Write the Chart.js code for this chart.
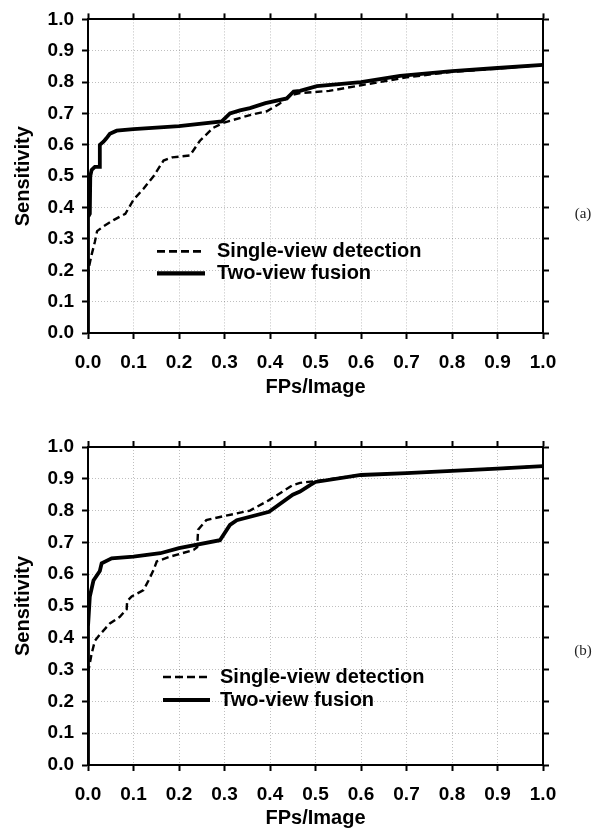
<!DOCTYPE html>
<html>
<head>
<meta charset="utf-8">
<script src="https://cdn.jsdelivr.net/npm/chart.js@4.4.1/dist/chart.umd.min.js"></script>
<style>
  html, body { margin: 0; padding: 0; background: #fff; }
  .panel { position: relative; width: 600px; }
  .tag { position: absolute; font: 15px 'Liberation Serif', 'DejaVu Serif', serif; color: #222; transform: translate(-50%, -50%); }
</style>
</head>
<body>
<div class="panel" style="height:418px"><canvas id="chart-a"></canvas><div class="tag" style="left:583px;top:213px">(a)</div></div>
<div class="panel" style="height:417px"><canvas id="chart-b"></canvas><div class="tag" style="left:583px;top:232px">(b)</div></div>
<script>
// Theme
Chart.defaults.color = '#000000';
Chart.defaults.font.family = "'Liberation Sans', Arial, sans-serif";

// Series labels and tick values
const seriesLabels = ['Single-view detection', 'Two-view fusion'];
const axisTicks = [0, 0.1, 0.2, 0.3, 0.4, 0.5, 0.6, 0.7, 0.8, 0.9, 1.0];

// (a) single-view detection
const singleA_x = [0, 0.002, 0.008, 0.015, 0.02, 0.034, 0.056, 0.082, 0.1, 0.122, 0.144, 0.166, 0.185, 0.224, 0.246, 0.275, 0.297, 0.356, 0.393, 0.42, 0.444, 0.466, 0.53, 0.6, 0.7, 0.8, 0.9, 1.0];
const singleA_y = [0.18, 0.21, 0.25, 0.29, 0.325, 0.34, 0.36, 0.38, 0.425, 0.46, 0.50, 0.55, 0.56, 0.566, 0.613, 0.654, 0.67, 0.695, 0.707, 0.73, 0.758, 0.765, 0.772, 0.79, 0.815, 0.833, 0.843, 0.855];

// (a) two-view fusion
const fusionA_x = [0, 0, 0.004, 0.005, 0.008, 0.015, 0.026, 0.026, 0.034, 0.04, 0.048, 0.063, 0.1, 0.2, 0.294, 0.312, 0.334, 0.356, 0.39, 0.437, 0.452, 0.466, 0.503, 0.6, 0.686, 0.8, 0.9, 1.0];
const fusionA_y = [0, 0.37, 0.38, 0.50, 0.52, 0.53, 0.53, 0.60, 0.61, 0.62, 0.635, 0.645, 0.65, 0.66, 0.675, 0.70, 0.71, 0.717, 0.733, 0.748, 0.77, 0.772, 0.787, 0.80, 0.82, 0.835, 0.845, 0.855];

// (b) single-view detection
const singleB_x = [0, 0.004, 0.008, 0.015, 0.026, 0.048, 0.07, 0.085, 0.086, 0.096, 0.122, 0.133, 0.144, 0.151, 0.18, 0.232, 0.24, 0.242, 0.26, 0.29, 0.356, 0.398, 0.45, 0.466, 0.5, 0.6, 0.7, 0.8, 0.9, 1.0];
const singleB_y = [0.29, 0.32, 0.35, 0.39, 0.41, 0.445, 0.466, 0.49, 0.515, 0.53, 0.55, 0.58, 0.613, 0.64, 0.655, 0.676, 0.685, 0.74, 0.77, 0.78, 0.80, 0.833, 0.88, 0.887, 0.893, 0.912, 0.918, 0.925, 0.932, 0.94];

// (b) two-view fusion
const fusionB_x = [0, 0, 0.004, 0.012, 0.026, 0.03, 0.052, 0.1, 0.159, 0.2, 0.29, 0.312, 0.327, 0.398, 0.45, 0.466, 0.488, 0.5, 0.6, 0.7, 0.8, 0.9, 1.0];
const fusionB_y = [0, 0.435, 0.53, 0.58, 0.61, 0.634, 0.65, 0.655, 0.666, 0.682, 0.707, 0.755, 0.77, 0.796, 0.85, 0.86, 0.88, 0.89, 0.912, 0.918, 0.925, 0.932, 0.94];

const zip = (xs, ys) => xs.map((x, i) => ({ x: x, y: ys[i] }));

// Draws the line-style legend inside the plot area
const lineLegend = {
    id: 'lineLegend',
    afterDatasetsDraw(chart, args, opts) {
        const ctx = chart.ctx;
        const area = chart.chartArea;
        ctx.save();
        chart.data.datasets.forEach((ds, i) => {
            const x = area.left + opts.left;
            const y = area.top + opts.top + i * opts.spacing;
            ctx.beginPath();
            ctx.setLineDash(ds.legendDash || []);
            ctx.lineWidth = ds.legendWidth;
            ctx.strokeStyle = ds.borderColor;
            ctx.moveTo(x, y);
            ctx.lineTo(x + opts.length, y);
            ctx.stroke();
            ctx.setLineDash([]);
            ctx.fillStyle = '#000';
            ctx.font = "bold 20px 'Liberation Sans', Arial, sans-serif";
            ctx.textBaseline = 'middle';
            ctx.fillText(ds.label, x + opts.length + opts.gap, y);
        });
        ctx.restore();
    }
};

const tickFont = { size: 19, weight: 'bold' };
const titleFont = { size: 20, weight: 'bold' };
const fmt = v => Number(v).toFixed(1);
const fixedTicks = s => { s.ticks = axisTicks.map(v => ({ value: v })); };

function makeChart(id, single, fusion, box, legend) {
    const frame = { display: true, color: '#000', width: 2 };
    const dottedFrame = { display: true, color: '#000', width: 2, dash: [1, 2] };
    const mainGrid = { color: 'rgba(0,0,0,0.25)', tickLength: 6, tickWidth: 2, tickColor: '#000' };
    const sideGrid = { drawOnChartArea: false, tickLength: 6, tickWidth: 2, tickColor: '#000' };
    return new Chart(document.getElementById(id), {
        type: 'scatter',
        data: {
            datasets: [{
                label: seriesLabels[0],
                data: single,
                showLine: true,
                borderColor: '#000',
                borderWidth: 2.4,
                borderDash: [7, 4],
                legendDash: [8, 4],
                legendWidth: 2.6,
                pointRadius: 0,
                tension: 0
            }, {
                label: seriesLabels[1],
                data: fusion,
                showLine: true,
                borderColor: '#000',
                borderWidth: 3.8,
                legendWidth: 4.2,
                pointRadius: 0,
                tension: 0
            }]
        },
        options: {
            responsive: true,
            maintainAspectRatio: false,
            animation: false,
            layout: { padding: 0 },
            plugins: {
                legend: { display: false },
                tooltip: { enabled: false },
                lineLegend: legend
            },
            scales: {
                x: {
                    type: 'linear', position: 'bottom', min: 0, max: 1,
                    afterBuildTicks: fixedTicks,
                    afterFit: s => { s.height = box.bottom; },
                    ticks: { font: tickFont, padding: 12, maxRotation: 0, callback: fmt },
                    grid: mainGrid,
                    border: dottedFrame,
                    title: { display: true, text: 'FPs/Image', font: titleFont, padding: { top: 0, bottom: box.titlePad } }
                },
                xTop: {
                    type: 'linear', position: 'top', min: 0, max: 1,
                    afterBuildTicks: fixedTicks,
                    afterFit: s => { s.height = box.top; },
                    ticks: { display: false },
                    grid: sideGrid,
                    border: frame
                },
                y: {
                    type: 'linear', position: 'left', min: 0, max: 1,
                    afterBuildTicks: fixedTicks,
                    afterFit: s => { s.width = 88; },
                    ticks: { font: tickFont, padding: 8, callback: fmt },
                    grid: mainGrid,
                    border: dottedFrame,
                    title: { display: true, text: 'Sensitivity', font: titleFont, padding: { top: 11, bottom: 0 } }
                },
                yRight: {
                    type: 'linear', position: 'right', min: 0, max: 1,
                    afterBuildTicks: fixedTicks,
                    afterFit: s => { s.width = 57; },
                    ticks: { display: false },
                    grid: sideGrid,
                    border: frame
                }
            }
        },
        plugins: [lineLegend]
    });
}

const chartA = makeChart('chart-a', zip(singleA_x, singleA_y), zip(fusionA_x, fusionA_y),
    { top: 15, bottom: 85, titlePad: 19 },
    { left: 69, top: 232, spacing: 22, length: 48, gap: 12 });

const chartB = makeChart('chart-b', zip(singleB_x, singleB_y), zip(fusionB_x, fusionB_y),
    { top: 29, bottom: 70, titlePad: 5 },
    { left: 75, top: 230, spacing: 23, length: 47, gap: 10 });
</script>
</body>
</html>
